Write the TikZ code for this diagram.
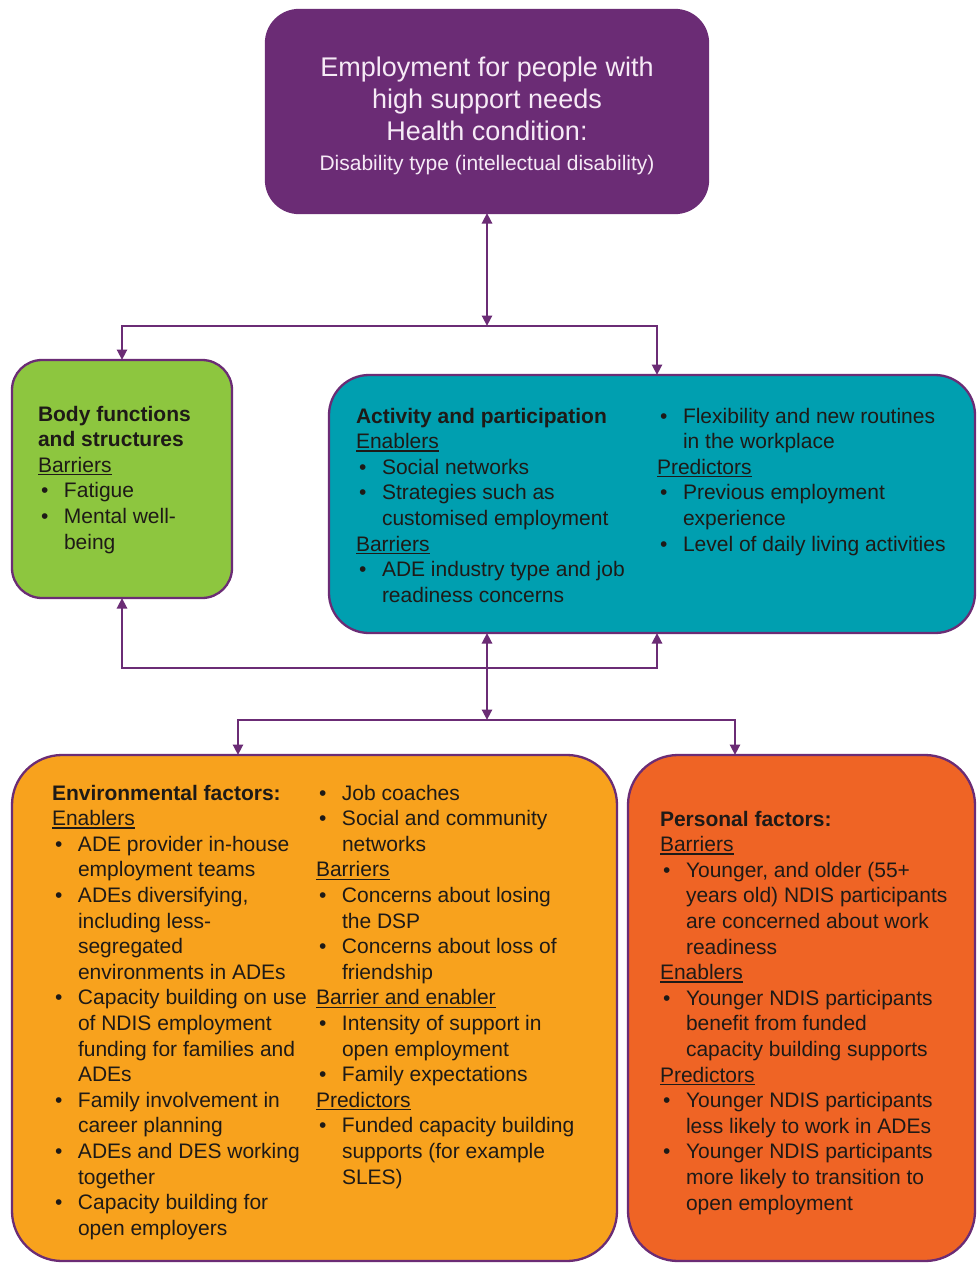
\documentclass[tikz,border=0pt]{standalone}
\usepackage{fontspec}
\setmainfont{Liberation Sans}
\usetikzlibrary{arrows.meta}

\definecolor{icfpurple}{HTML}{6B2C75}
\definecolor{icfgreen}{HTML}{8DC63F}
\definecolor{icfteal}{HTML}{009FB0}
\definecolor{icforange}{HTML}{F8A21D}
\definecolor{icfred}{HTML}{EF6425}
\definecolor{bodyink}{HTML}{1E1A17}
\definecolor{titleink}{HTML}{F6EAF6}

% body text size and list helpers
\newcommand\bodyfont{\fontsize{21}{25.6}\selectfont}
\newcommand\lbr{\newline}
\newsavebox\ulbox
\newcommand\uln[1]{\sbox\ulbox{#1}\rlap{\rule[-3.2pt]{\wd\ulbox}{1.4pt}}\usebox\ulbox}
\newcommand\hdr[1]{\par\noindent\uln{#1}\par}
\newcommand\ttl[1]{\par\noindent\textbf{#1}\par}
\newcommand\itm[1]{\par\hangindent=26pt\hangafter=1\noindent
  \makebox[26pt][l]{\hspace{3pt}\textbullet}#1\par}
\newenvironment{col}[1]{\begin{minipage}[t]{#1}\bodyfont
  \parindent=0pt\parskip=0pt\rightskip=0pt plus 1fil\relax}{\end{minipage}}

\begin{document}
\begin{tikzpicture}[x=1pt,y=-1pt,
  panel/.style={draw=icfpurple, line width=2.3pt, rounded corners=#1,
    anchor=north west, inner sep=0pt, outer sep=0pt},
  link/.style={draw=icfpurple, line width=2.6pt},
  tip/.tip={Triangle[length=10.5pt,width=10pt]},
  txt/.style={anchor=base west, inner sep=0pt, outer sep=0pt, text=bodyink}]

\clip (0,0) rectangle (977,1263);
\fill[white] (0,0) rectangle (977,1263);

% panels
\node[panel=33, fill=icfpurple, minimum width=442, minimum height=203]
  (top) at (266,10) {};
\node[panel=30, fill=icfgreen, minimum width=220, minimum height=238]
  (body) at (12,360) {};
\node[panel=40, fill=icfteal, minimum width=646, minimum height=258]
  (act) at (329,375) {};
\node[panel=50, fill=icforange, minimum width=605, minimum height=506]
  (env) at (12,755) {};
\node[panel=50, fill=icfred, minimum width=347, minimum height=506]
  (pers) at (628,755) {};

% connectors
\coordinate (j1) at (487,326);
\coordinate (j2) at (487,668);
\coordinate (j3) at (487,720);
\draw[link, tip-tip] (top.south) -- (j1);
\draw[link, -tip] (j1) -| (body.north);
\draw[link, -tip] (j1) -| ([xshift=328]act.north west);
\draw[link, tip-tip] (body.south) |- (j2) -| ([xshift=328]act.south west);
\draw[link, tip-tip] ([xshift=158]act.south west) -- (j3);
\draw[link, -tip] (j3) -| ([xshift=226]env.north west);
\draw[link, -tip] (j3) -| ([xshift=107]pers.north west);

% title
\node[anchor=base, inner sep=0pt, text=titleink] (ttl) at (487,77)
  {\begin{minipage}[t]{440pt}\centering
   {\fontsize{27}{32}\selectfont Employment for people with\\
    high support needs\\ Health condition:\par}
   {\fontsize{21}{29}\selectfont Disability type (intellectual disability)\par}
   \end{minipage}};

% body functions and structures
\node[txt] (bodytxt) at (38,421) {\begin{col}{190pt}
  \ttl{Body functions}
  \ttl{and structures}
  \hdr{Barriers}
  \itm{Fatigue}
  \itm{Mental well-\lbr being}
\end{col}};

% activity and participation
\node[txt] (acttxtA) at (356,423) {\begin{col}{300pt}
  \ttl{Activity and participation}
  \hdr{Enablers}
  \itm{Social networks}
  \itm{Strategies such as\lbr customised employment}
  \hdr{Barriers}
  \itm{ADE industry type and job\lbr readiness concerns}
\end{col}};
\node[txt] (acttxtB) at (657,423) {\begin{col}{310pt}
  \itm{Flexibility and new routines\lbr in the workplace}
  \hdr{Predictors}
  \itm{Previous employment\lbr experience}
  \itm{Level of daily living activities}
\end{col}};

% environmental factors
\node[txt] (envtxtA) at (52,800) {\begin{col}{262pt}
  \ttl{Environmental factors:}
  \hdr{Enablers}
  \itm{ADE provider in-house\lbr employment teams}
  \itm{ADEs diversifying,\lbr including less-\lbr segregated\lbr environments in ADEs}
  \itm{Capacity building on use\lbr of NDIS employment\lbr funding for families and\lbr ADEs}
  \itm{Family involvement in\lbr career planning}
  \itm{ADEs and DES working\lbr together}
  \itm{Capacity building for\lbr open employers}
\end{col}};
\node[txt] (envtxtB) at (316,800) {\begin{col}{290pt}
  \itm{Job coaches}
  \itm{Social and community\lbr networks}
  \hdr{Barriers}
  \itm{Concerns about losing\lbr the DSP}
  \itm{Concerns about loss of\lbr friendship}
  \hdr{Barrier and enabler}
  \itm{Intensity of support in\lbr open employment}
  \itm{Family expectations}
  \hdr{Predictors}
  \itm{Funded capacity building\lbr supports (for example\lbr SLES)}
\end{col}};

% personal factors
\node[txt] (perstxt) at (660,826) {\begin{col}{310pt}
  \ttl{Personal factors:}
  \hdr{Barriers}
  \itm{Younger, and older (55+\lbr years old) NDIS participants\lbr are concerned about work\lbr readiness}
  \hdr{Enablers}
  \itm{Younger NDIS participants\lbr benefit from funded\lbr capacity building supports}
  \hdr{Predictors}
  \itm{Younger NDIS participants\lbr less likely to work in ADEs}
  \itm{Younger NDIS participants\lbr more likely to transition to\lbr open employment}
\end{col}};

\end{tikzpicture}
\end{document}
